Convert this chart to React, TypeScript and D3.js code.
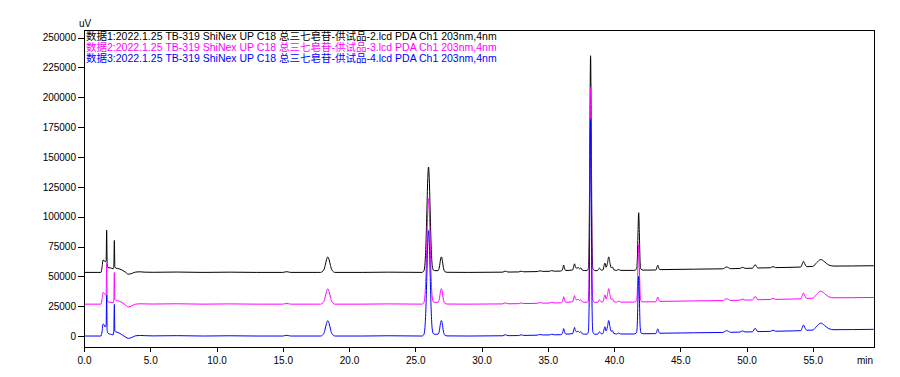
import React, { useEffect, useRef } from "react";
import * as d3 from "d3";

const W = 900;
const H = 377;
const L = 84, T = 30, R = 874, B = 347;

const seriesNames = [
  "数据1:2022.1.25 TB-319 ShiNex UP C18 总三七皂苷-供试品-2.lcd PDA Ch1 203nm,4nm",
  "数据2:2022.1.25 TB-319 ShiNex UP C18 总三七皂苷-供试品-3.lcd PDA Ch1 203nm,4nm",
  "数据3:2022.1.25 TB-319 ShiNex UP C18 总三七皂苷-供试品-4.lcd PDA Ch1 203nm,4nm",
];
const seriesColors = ["#000000", "#ff00ff", "#0000ff"];
const seriesOffsets = [53300, 26700, 0];

// early part (0–4.6 min), differs per trace
const earlyTimes = [0, 1.28, 1.36, 1.44, 1.52, 1.6, 1.67, 1.71, 1.75, 1.82, 2.0, 2.2, 2.25, 2.29, 2.33, 2.42, 2.65, 2.95, 3.15, 3.35, 3.6, 3.9, 4.2, 4.6];
const earlyBlack = [0, 0, 4000, 10300, 10000, 8800, 10000, 35500, 6000, 4000, 3800, 3000, 5000, 26800, 4500, 3500, 3000, 1500, 0, -1500, -900, 300, 500, 200];
const earlyPink = [0, 0, 4000, 9700, 9300, 8000, 9000, 34000, 4000, 1800, 1500, 1200, 4000, 26500, 4000, 3200, 2500, 800, -1000, -2300, -1400, 0, 300, 200];
const earlyBlue = [0, 0, 3500, 10000, 9500, 7500, 9000, 34500, 4000, 2200, 1500, 1000, 4000, 26500, 4000, 3500, 2500, 500, -1000, -2000, -1200, 200, 500, 300];

// common profile (5.2–59.6 min), signal above each trace's own offset (uV)
const sharedTimes = [5.2, 7.0, 9.0, 11.0, 13.0, 15.0, 15.3, 15.6, 17.6, 17.85, 18.1, 18.2, 18.3, 18.4, 18.5, 18.6, 18.7, 18.95, 21.0, 23.0, 25.5, 25.64, 25.72, 25.8, 25.87, 25.94, 26.0, 26.06, 26.13, 26.2, 26.28, 26.36, 26.48, 26.72, 26.82, 26.9, 26.97, 27.04, 27.12, 27.22, 27.4, 29.0, 31.6, 31.8, 32.0, 32.8, 33.0, 33.2, 34.2, 34.4, 34.6, 35.1, 35.3, 35.5, 35.95, 36.05, 36.14, 36.2, 36.26, 36.36, 36.6, 36.88, 36.96, 37.02, 37.08, 37.16, 37.3, 37.4, 37.5, 37.6, 37.75, 37.95, 38.06, 38.12, 38.18, 38.23, 38.28, 38.34, 38.4, 38.55, 38.75, 38.9, 39.05, 39.18, 39.25, 39.32, 39.4, 39.5, 39.6, 39.7, 39.78, 39.88, 39.98, 40.2, 40.35, 40.5, 41.5, 41.69, 41.75, 41.81, 41.86, 41.91, 41.97, 42.03, 42.2, 43.15, 43.24, 43.3, 43.36, 43.45, 44.0, 46.0, 48.2, 48.5, 48.8, 49.5, 49.7, 49.9, 50.45, 50.65, 50.85, 51.8, 52.0, 52.2, 53.5, 54.1, 54.2, 54.3, 54.4, 54.55, 55.0, 55.3, 55.6, 55.9, 56.2, 56.6, 58.0, 59.6];
const sharedSignal = [100, 300, 0, 200, 0, 0, 600, 0, 0, 0, 2200, 5900, 10500, 12900, 10500, 5900, 2200, 0, 0, 200, 0, 1000, 5800, 22000, 49000, 77500, 88300, 77500, 49000, 22000, 5800, 2000, 1500, 1500, 4500, 10400, 13000, 10200, 4200, 800, 100, 0, 200, 1100, 300, 400, 1000, 500, 700, 1300, 900, 900, 1500, 1000, 1100, 1400, 3600, 6200, 3600, 1600, 1700, 2000, 5200, 7200, 4700, 3600, 4000, 3000, 3800, 2000, 1600, 1500, 3300, 26000, 121500, 181500, 121500, 26000, 3300, 1500, 1500, 3500, 1800, 2300, 5800, 7800, 4300, 7500, 13000, 7500, 4000, 4500, 2200, 1700, 2500, 1700, 1700, 2700, 8300, 33500, 50000, 33500, 8300, 2700, 1900, 2000, 4300, 6000, 4300, 2300, 2400, 2700, 3000, 4500, 3100, 3300, 4300, 3400, 3500, 6500, 3700, 3900, 4900, 4000, 4300, 4500, 7000, 9300, 7000, 4800, 5000, 8200, 10800, 8800, 6200, 5300, 5400, 5600];

const yMajorTicks = [0, 25000, 50000, 75000, 100000, 125000, 150000, 175000, 200000, 225000, 250000];
const xMajorTicks = [0, 5, 10, 15, 20, 25, 30, 35, 40, 45, 50, 55];

const FONT = "'Liberation Sans', Arial, 'Noto Sans CJK SC', sans-serif";

export default function App() {
  const ref = useRef<SVGSVGElement | null>(null);

  useEffect(() => {
    const svg = d3.select(ref.current);
    svg.selectAll("*").remove();

    const x = d3.scaleLinear().domain([0, 59.62]).range([L, R]);
    const y = d3.scaleLinear().domain([-9200, 256400]).range([B, T]);

    svg.append("defs").append("clipPath").attr("id", "plotclip")
      .append("rect").attr("x", L).attr("y", T).attr("width", R - L).attr("height", B - T);

    const early = [earlyBlack, earlyPink, earlyBlue];
    const line = d3.line<[number, number]>()
      .x((d) => x(d[0]))
      .y((d) => y(d[1]))
      .curve(d3.curveMonotoneX);

    const gTraces = svg.append("g").attr("clip-path", "url(#plotclip)");
    early.forEach((ev, i) => {
      const pts: [number, number][] = [];
      earlyTimes.forEach((t, k) => pts.push([t, seriesOffsets[i] + ev[k]]));
      sharedTimes.forEach((t, k) => pts.push([t, seriesOffsets[i] + sharedSignal[k]]));
      gTraces.append("path")
        .attr("d", line(pts) as string)
        .attr("fill", "none")
        .attr("stroke", seriesColors[i])
        .attr("stroke-width", 1)
        .attr("stroke-linejoin", "round");
    });

    // frame
    svg.append("rect")
      .attr("x", L + 0.5).attr("y", T + 0.5)
      .attr("width", R - L).attr("height", B - T)
      .attr("fill", "none").attr("stroke", "#000").attr("stroke-width", 1)
      .attr("shape-rendering", "crispEdges");

    // y axis
    const yMinor = d3.range(-5000, 256000, 5000).filter((v) => v % 25000 !== 0);
    const gy = svg.append("g").attr("transform", `translate(${L},0)`);
    gy.call(d3.axisLeft(y).tickValues(yMinor).tickSize(3).tickFormat(() => ""));
    gy.call(d3.axisLeft(y).tickValues(yMajorTicks).tickSize(6).tickPadding(2).tickFormat(d3.format("d")) as any);
    // x axis
    const xMinor = d3.range(1, 60, 1).filter((v) => v % 5 !== 0);
    const gx = svg.append("g").attr("transform", `translate(0,${B})`);
    gx.call(d3.axisBottom(x).tickValues(xMinor).tickSize(3).tickFormat(() => ""));
    gx.call(d3.axisBottom(x).tickValues(xMajorTicks).tickSize(5).tickPadding(5).tickFormat(d3.format(".1f")) as any);

    svg.selectAll(".domain").remove();
    svg.selectAll(".tick line").attr("stroke", "#000").attr("shape-rendering", "crispEdges");
    svg.selectAll(".tick text").attr("fill", "#000").style("font-family", FONT).style("font-size", "10px");
    gy.attr("font-family", null);
    gx.attr("font-family", null);

    svg.append("text").attr("x", 79).attr("y", 27).text("uV")
      .style("font-family", FONT).style("font-size", "10px").attr("fill", "#000");
    svg.append("text").attr("x", 873).attr("y", 364).attr("text-anchor", "end").text("min")
      .style("font-family", FONT).style("font-size", "10px").attr("fill", "#000");

    seriesNames.forEach((name, i) => {
      svg.append("text")
        .attr("x", 86).attr("y", 40 + i * 11)
        .text(name)
        .attr("fill", seriesColors[i])
        .style("font-family", FONT)
        .style("font-size", "10.5px");
    });
  }, []);

  return (
    <svg
      ref={ref}
      width={W}
      height={H}
      style={{ position: "absolute", left: 0, top: 0, display: "block", background: "#fff" }}
    />
  );
}
